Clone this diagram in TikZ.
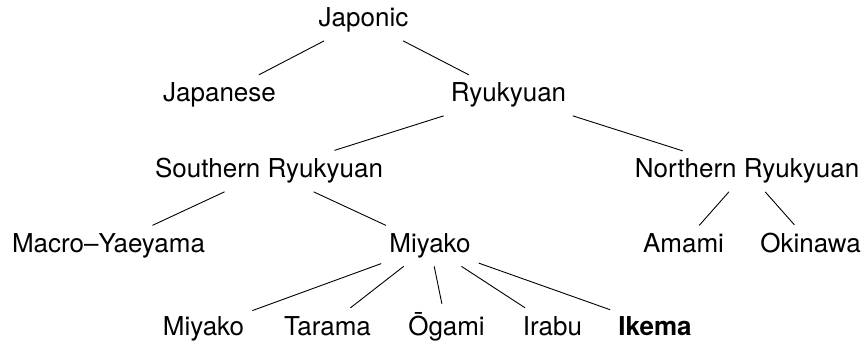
\documentclass[tikz,border=0pt]{standalone}
\usepackage{fontspec}
\setmainfont{TeX Gyre Heros}
\begin{document}
\begin{tikzpicture}[x=1pt,y=-1pt,
  lang/.style={font=\fontsize{26}{31}\selectfont, inner sep=8pt, anchor=base},
  edge/.style={line width=0.9pt}]
\useasboundingbox (0,0) rectangle (866,344);
% row 0
\node[lang] (japonic) at (363.5,27) {Japonic};
% row 1
\node[lang] (japanese) at (219.5,102) {Japanese};
\node[lang] (ryukyuan) at (508.5,102) {Ryukyuan};
% row 2
\node[lang] (south) at (269,178) {Southern Ryukyuan};
\node[lang] (north) at (747,178) {Northern Ryukyuan};
% row 3
\node[lang] (macro) at (108.5,252.5) {Macro–Yaeyama};
\node[lang] (miyakoA) at (430,252.5) {Miyako};
\node[lang] (amami) at (683.5,252.5) {Amami};
\node[lang] (okinawa) at (810.5,252.5) {Okinawa};
% row 4
\node[lang] (miyakoB) at (203.5,335) {Miyako};
\node[lang] (tarama) at (327.5,335) {Tarama};
\node[lang] (ogami) at (446.5,335) {Ōgami};
\node[lang] (irabu) at (552.5,335) {Irabu};
\node[lang] (ikema) at (655,335) {\bfseries Ikema};
% edges
\draw[edge] (japonic) -- (japanese);
\draw[edge] (japonic) -- (ryukyuan);
\draw[edge] (ryukyuan) -- (south);
\draw[edge] (ryukyuan) -- (north);
\draw[edge] (south) -- (macro);
\draw[edge] (south) -- (miyakoA);
\draw[edge] (north) -- (amami);
\draw[edge] (north) -- (okinawa);
\draw[edge] (miyakoA) -- (miyakoB);
\draw[edge] (miyakoA) -- (tarama);
\draw[edge] (miyakoA) -- (ogami);
\draw[edge] (miyakoA) -- (irabu);
\draw[edge] (miyakoA) -- (ikema);
\end{tikzpicture}
\end{document}
